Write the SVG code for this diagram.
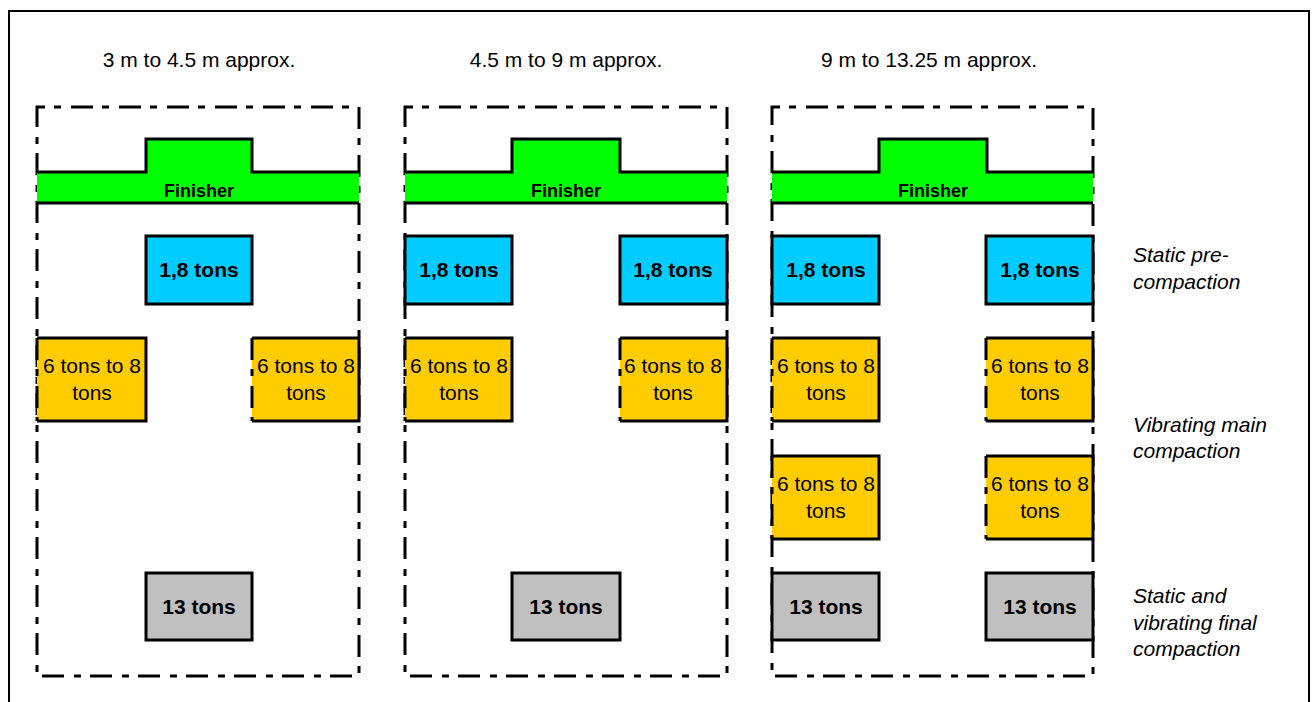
<svg xmlns="http://www.w3.org/2000/svg" width="1313" height="702" viewBox="0 0 1313 702">
<style>
text{font-family:"Liberation Sans",Arial,sans-serif;fill:#000}
.hdr{font-size:21px;text-anchor:middle}
.lbl{font-size:21px;font-style:italic}
.b{font-size:21px;font-weight:bold;text-anchor:middle}
.fin{font-size:18px;font-weight:bold;text-anchor:middle}
.y{font-size:21px;text-anchor:middle}
.panel{fill:none;stroke:#000;stroke-width:3;stroke-dasharray:22 9 7 10;stroke-dashoffset:14}
.solid{stroke:#000;stroke-width:3}
.dash{fill:none;stroke:#000;stroke-width:3;stroke-dasharray:22 9 7 10}
.blue{fill:#00ccff}
.yel{fill:#ffcc00}
.gray{fill:#c0c0c0}
.green{fill:#00ff00}
</style>
<rect x="9" y="11" width="1300" height="700" fill="none" stroke="#000" stroke-width="2"/>
<g id="headers">
<text class="hdr" x="199" y="67">3 m to 4.5 m approx.</text>
<text class="hdr" x="566" y="67">4.5 m to 9 m approx.</text>
<text class="hdr" x="929" y="67">9 m to 13.25 m approx.</text>
</g>
<g id="labels">
<text class="lbl" x="1133" y="262">Static pre-</text>
<text class="lbl" x="1133" y="289">compaction</text>
<text class="lbl" x="1133" y="432">Vibrating main</text>
<text class="lbl" x="1133" y="458">compaction</text>
<text class="lbl" x="1133" y="603">Static and</text>
<text class="lbl" x="1133" y="630">vibrating final</text>
<text class="lbl" x="1133" y="656">compaction</text>
</g>
<g id="panel1">
<rect class="panel" x="37" y="107" width="322" height="569"/>
<path class="green" d="M37 172H146V139H252V172H359V203H37Z"/>
<path fill="none" class="solid" d="M37 172H146V139H252V172H359M37 203H359"/>
<text class="fin" x="199" y="197">Finisher</text>
<g id="p1-blue"><rect class="blue solid" x="146" y="236" width="106" height="68"/><text class="b" x="199" y="277">1,8 tons</text></g>
<g id="p1-y1"><rect class="yel" x="37" y="338" width="109" height="83"/><path fill="none" class="solid" d="M37 338H146V421H37"/><path class="dash" d="M37 338V421"/><text class="y" x="92" y="373">6 tons to 8</text><text class="y" x="92" y="400">tons</text></g>
<g id="p1-y2"><rect class="yel" x="252" y="338" width="107" height="83"/><path fill="none" class="solid" d="M252 338H359V421H252"/><path class="dash" d="M252 338V421"/><text class="y" x="306" y="373">6 tons to 8</text><text class="y" x="306" y="400">tons</text></g>
<g id="p1-gray"><rect class="gray solid" x="146" y="573" width="106" height="67"/><text class="b" x="199" y="614">13 tons</text></g>
</g>
<g id="panel2">
<rect class="panel" x="405" y="107" width="322" height="569"/>
<path class="green" d="M405 172H512V139H620V172H727V203H405Z"/>
<path fill="none" class="solid" d="M405 172H512V139H620V172H727M405 203H727"/>
<text class="fin" x="566" y="197">Finisher</text>
<g id="p2-blue1"><rect class="blue solid" x="405" y="236" width="107" height="68"/><text class="b" x="459" y="277">1,8 tons</text></g>
<g id="p2-blue2"><rect class="blue solid" x="620" y="236" width="107" height="68"/><text class="b" x="673" y="277">1,8 tons</text></g>
<g id="p2-y1"><rect class="yel" x="405" y="338" width="107" height="83"/><path fill="none" class="solid" d="M405 338H512V421H405"/><path class="dash" d="M405 338V421"/><text class="y" x="459" y="373">6 tons to 8</text><text class="y" x="459" y="400">tons</text></g>
<g id="p2-y2"><rect class="yel" x="620" y="338" width="107" height="83"/><path fill="none" class="solid" d="M620 338H727V421H620"/><path class="dash" d="M620 338V421"/><text class="y" x="673" y="373">6 tons to 8</text><text class="y" x="673" y="400">tons</text></g>
<g id="p2-gray"><rect class="gray solid" x="512" y="573" width="108" height="67"/><text class="b" x="566" y="614">13 tons</text></g>
</g>
<g id="panel3">
<rect class="panel" x="772" y="107" width="321" height="569"/>
<path class="green" d="M772 172H879V139H987V172H1093V203H772Z"/>
<path fill="none" class="solid" d="M772 172H879V139H987V172H1093M772 203H1093"/>
<text class="fin" x="933" y="197">Finisher</text>
<g id="p3-blue1"><rect class="blue solid" x="772" y="236" width="107" height="68"/><text class="b" x="826" y="277">1,8 tons</text></g>
<g id="p3-blue2"><rect class="blue solid" x="986" y="236" width="107" height="68"/><text class="b" x="1040" y="277">1,8 tons</text></g>
<g id="p3-y1"><rect class="yel" x="772" y="338" width="107" height="83"/><path fill="none" class="solid" d="M772 338H879V421H772"/><path class="dash" d="M772 338V421"/><text class="y" x="826" y="373">6 tons to 8</text><text class="y" x="826" y="400">tons</text></g>
<g id="p3-y2"><rect class="yel" x="986" y="338" width="107" height="83"/><path fill="none" class="solid" d="M986 338H1093V421H986"/><path class="dash" d="M986 338V421"/><text class="y" x="1040" y="373">6 tons to 8</text><text class="y" x="1040" y="400">tons</text></g>
<g id="p3-y3"><rect class="yel" x="772" y="456" width="107" height="83"/><path fill="none" class="solid" d="M772 456H879V539H772"/><path class="dash" d="M772 456V539"/><text class="y" x="826" y="491">6 tons to 8</text><text class="y" x="826" y="518">tons</text></g>
<g id="p3-y4"><rect class="yel" x="986" y="456" width="107" height="83"/><path fill="none" class="solid" d="M986 456H1093V539H986"/><path class="dash" d="M986 456V539"/><text class="y" x="1040" y="491">6 tons to 8</text><text class="y" x="1040" y="518">tons</text></g>
<g id="p3-gray1"><rect class="gray solid" x="772" y="573" width="107" height="67"/><text class="b" x="826" y="614">13 tons</text></g>
<g id="p3-gray2"><rect class="gray solid" x="986" y="573" width="107" height="67"/><text class="b" x="1040" y="614">13 tons</text></g>
</g>
</svg>
